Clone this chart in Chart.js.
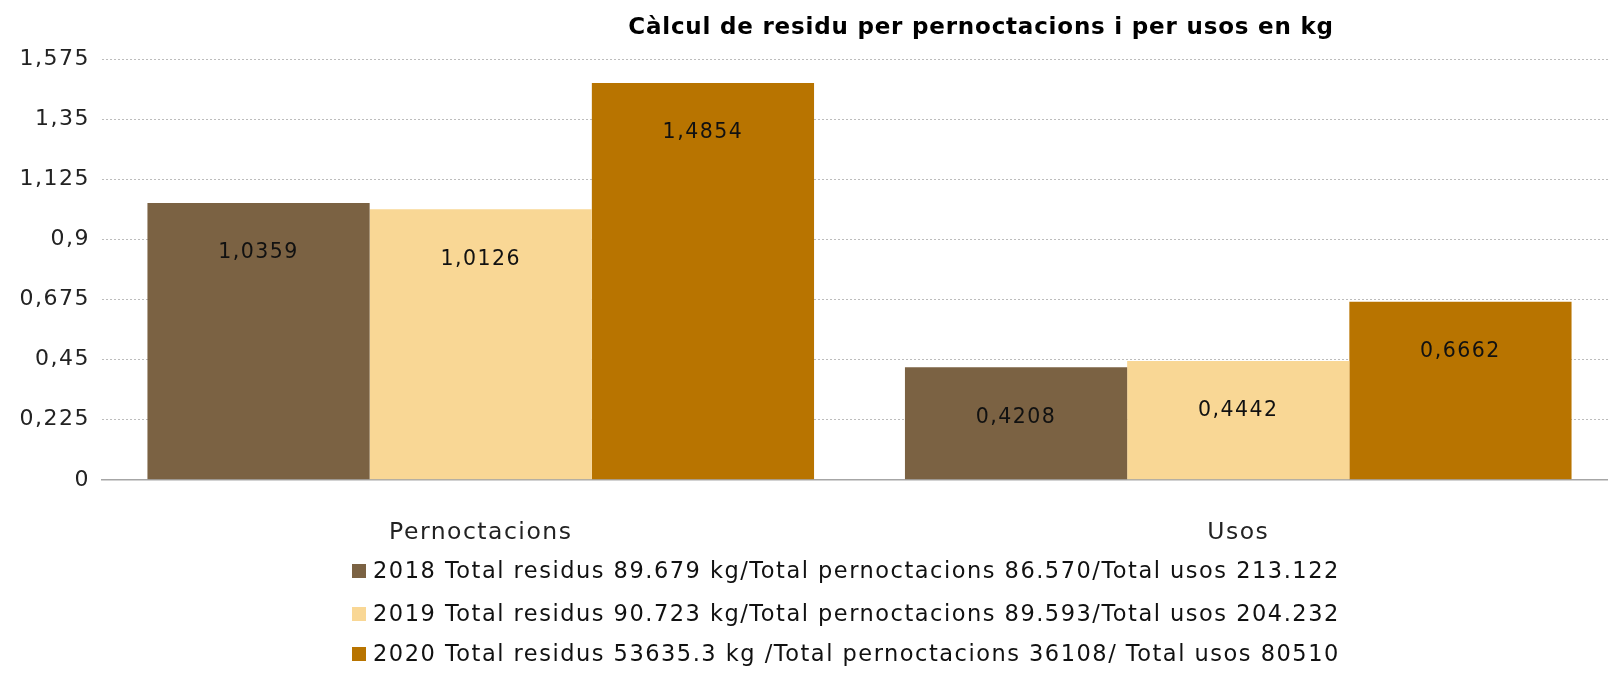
<!DOCTYPE html>
<html>
<head>
<meta charset="utf-8">
<script src="https://cdn.jsdelivr.net/npm/chart.js@4.4.0/dist/chart.umd.min.js"></script>
<style>
  html, body { margin: 0; padding: 0; background: #fff; overflow: hidden; }
  #wrap { position: absolute; left: 0; top: 0; width: 1620px; height: 673px; }
</style>
</head>
<body>
<div id="wrap"><canvas id="barChart" width="1620" height="673"></canvas></div>
<script>
// categories and values
const categories = ["Pernoctacions", "Usos"];
const seriesLabels = [
    "2018 Total residus 89.679 kg/Total pernoctacions 86.570/Total usos 213.122",
    "2019 Total residus 90.723 kg/Total pernoctacions 89.593/Total usos 204.232",
    "2020 Total residus 53635.3 kg /Total pernoctacions 36108/ Total usos 80510"
];
const values2018 = [1.0359, 0.4208];
const values2019 = [1.0126, 0.4442];
const values2020 = [1.4854, 0.6662];
const valueLabels2018 = ["1,0359", "0,4208"];
const valueLabels2019 = ["1,0126", "0,4442"];
const valueLabels2020 = ["1,4854", "0,6662"];
const yTicks = [0, 0.225, 0.45, 0.675, 0.9, 1.125, 1.35, 1.575];
const titleText = "Càlcul de residu per pernoctacions i per usos en kg";

const colors = ["#7b6243", "#f9d795", "#b87400"];
const FONT = "'DejaVu Sans', sans-serif";

// draws title, value labels and the vertical legend
const extrasPlugin = {
    id: "extras",
    beforeDraw(chart) {
        // wider spacing to get closer to the original's wide typeface
        chart.ctx.letterSpacing = "1.5px";
    },
    afterDatasetsDraw(chart) {
        const ctx = chart.ctx;
        ctx.save();
        ctx.fillStyle = "#111";
        ctx.textAlign = "center";
        ctx.textBaseline = "middle";
        ctx.font = "20.5px " + FONT;
        chart.data.datasets.forEach((ds, i) => {
            const meta = chart.getDatasetMeta(i);
            meta.data.forEach((bar, j) => {
                ctx.fillText(ds.valueLabels[j], bar.x, bar.y + 50);
            });
        });
        ctx.restore();
    },
    afterDraw(chart) {
        const ctx = chart.ctx;
        ctx.save();
        ctx.fillStyle = "#000";
        ctx.textAlign = "center";
        ctx.textBaseline = "middle";
        ctx.letterSpacing = "0.8px";
        ctx.font = "bold 23px " + FONT;
        ctx.fillText(titleText, 981, 28);

        ctx.letterSpacing = "1.5px";
        ctx.textAlign = "left";
        ctx.font = "22.5px " + FONT;
        const rowsY = [571, 614, 654];
        chart.data.datasets.forEach((ds, i) => {
            const y = rowsY[i];
            ctx.fillStyle = ds.backgroundColor;
            ctx.fillRect(352, y - 7, 14, 14);
            ctx.fillStyle = "#111";
            ctx.fillText(ds.label, 373, y + 1);
        });
        ctx.restore();
    }
};

const barChart = new Chart(document.getElementById("barChart").getContext("2d"), {
    type: "bar",
    data: {
        labels: categories,
        datasets: [
            { label: seriesLabels[0], data: values2018, valueLabels: valueLabels2018, backgroundColor: colors[0] },
            { label: seriesLabels[1], data: values2019, valueLabels: valueLabels2019, backgroundColor: colors[1] },
            { label: seriesLabels[2], data: values2020, valueLabels: valueLabels2020, backgroundColor: colors[2] },
        ],
    },
    options: {
        responsive: false,
        animation: false,
        devicePixelRatio: 1,
        categoryPercentage: 0.88,
        barPercentage: 1.0,
        layout: { padding: { left: 0, right: 3, top: 59, bottom: 87 } },
        plugins: {
            legend: { display: false },
            title: { display: false },
            tooltip: { enabled: false },
        },
        scales: {
            x: {
                grid: { display: false, drawTicks: false },
                border: { display: true, color: "#a6a6a6", width: 1.5 },
                ticks: { color: "#222", padding: 39, font: { family: FONT, size: 23.5 } },
            },
            y: {
                min: 0,
                max: 1.575,
                afterFit(scale) { scale.width = 102; },
                afterBuildTicks(scale) { scale.ticks = yTicks.map(v => ({ value: v })); },
                grid: { color: "#bdbdbd", lineWidth: 1, drawTicks: false },
                border: { display: false, dash: [2, 2] },
                ticks: {
                    color: "#222",
                    padding: 12,
                    font: { family: FONT, size: 22 },
                    callback: (v) => String(Math.round(v * 1000) / 1000).replace(".", ","),
                },
            },
        },
    },
    plugins: [extrasPlugin],
});
</script>
</body>
</html>
